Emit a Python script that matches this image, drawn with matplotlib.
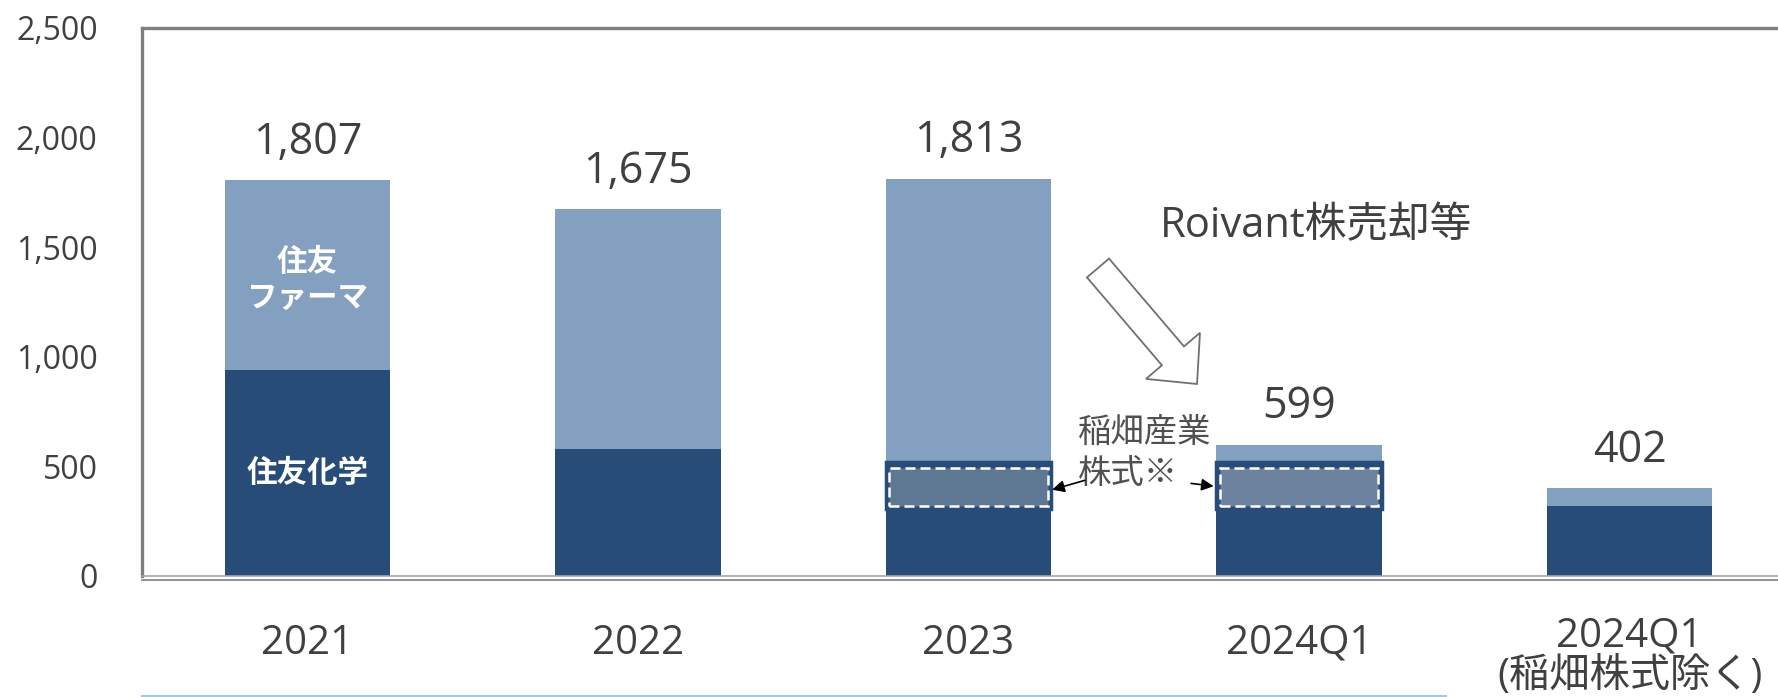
import matplotlib
matplotlib.use('Agg')
import matplotlib.pyplot as plt
import matplotlib.transforms as mtransforms
from matplotlib.patches import FancyArrow
from matplotlib.lines import Line2D
import numpy as np

plt.rcParams['font.family'] = ['Open Sans', 'Noto Sans CJK JP', 'DejaVu Sans']

# data
categories = ['2021', '2022', '2023', '2024Q1', '2024Q1\n(稲畑株式除く)']
totals = [1807, 1675, 1813, 599, 402]
chem = [940, 581, 518, 518, 320]          # 住友化学 (dark part)
inabata_base = [0, 0, 320, 320, 0]         # 稲畑産業株式 box bottom
inabata_top = [0, 0, 493, 493, 0]          # 稲畑産業株式 box top
box_colors = ['#5E7792', '#5E7792', '#5E7792', '#6D829E', '#6D829E']

pharma = [t - c for t, c in zip(totals, chem)]  # 住友ファーマ (light part)

dark = '#264C77'
light = '#83A0C0'
txt = '#404040'

W, H = 1778, 697
fig = plt.figure(figsize=(W / 100, H / 100), dpi=100)
# axes left edge at 142px, 0 at 576px, 2500 at 28px; right edge runs off the figure
ax = fig.add_axes([142 / W, (H - 576) / H, 1653 / W, 548 / H])

x = np.arange(len(categories))
ax.bar(x, chem, width=0.5, color=dark, zorder=2)
ax.bar(x, pharma, bottom=chem, width=0.5, color=light, zorder=2)

# Inabata shares box inside 2023 and 2024Q1 bars
for i in range(len(x)):
    h = inabata_top[i] - inabata_base[i]
    if h <= 0:
        continue
    ax.bar(x[i], chem[i] - inabata_base[i] + 15, bottom=inabata_base[i] - 15, width=0.5,
           color=dark, edgecolor=dark, linewidth=2.5, zorder=3)
    ax.bar(x[i], h, bottom=inabata_base[i], width=0.48, color=box_colors[i],
           edgecolor='white', linestyle=(0, (4, 2)), linewidth=1.8, zorder=4)

# totals on top
for xi, t in zip(x, totals):
    ax.annotate(f'{t:,}', xy=(xi, t), xytext=(0, 27), textcoords='offset points',
                ha='center', va='center', fontsize=31, color=txt)

# labels inside the 2021 bar
ax.text(x[0], 1350, '住友\nファーマ', ha='center', va='center', fontsize=22,
        fontweight='bold', color='white', linespacing=1.15,
        family=['Noto Sans CJK JP'], zorder=5)
ax.text(x[0], 470, '住友化学', ha='center', va='center', fontsize=22,
        fontweight='bold', color='white', family=['Noto Sans CJK JP'], zorder=5)

# annotations
ax.text(3.05, 1597, 'Roivant株売却等', ha='center', va='center', fontsize=30,
        color=txt)
ax.text(2.33, 561, '稲畑産業\n株式※', ha='left', va='center', fontsize=24,
        color='#505050', linespacing=1.25, family=['Noto Sans CJK JP', 'DejaVu Sans'])
ax.annotate('', xy=(2.245, 390), xytext=(2.36, 440),
            arrowprops=dict(arrowstyle='-|>', color='black', lw=1.2, mutation_scale=18),
            zorder=6)
ax.annotate('', xy=(2.75, 408), xytext=(2.665, 424),
            arrowprops=dict(arrowstyle='-|>', color='black', lw=1.2, mutation_scale=18),
            zorder=6)

# big hollow arrow
big_arrow = FancyArrow(1098 / 100, (H - 268) / 100, 99 / 100, -116 / 100,
                       width=0.29, head_width=0.71, head_length=0.37,
                       length_includes_head=True, facecolor='white',
                       edgecolor='#707070', linewidth=1.3,
                       transform=fig.dpi_scale_trans)
fig.add_artist(big_arrow)

ax.set_xlim(-0.5, 4.5)
ax.set_ylim(0, 2500)
ax.set_yticks([0, 500, 1000, 1500, 2000, 2500])
ax.yaxis.set_major_formatter(matplotlib.ticker.StrMethodFormatter('{x:,.0f}'))
ax.set_xticks(x)
ax.set_xticklabels(categories, linespacing=1.0)
ax.tick_params(axis='y', length=0, pad=32, labelsize=23, labelcolor=txt)
ax.tick_params(axis='x', length=0, pad=34, labelsize=29, labelcolor=txt)

# two-line label sits a little higher so it stays inside the figure
lbl = ax.get_xticklabels()[-1]
lbl.set_transform(lbl.get_transform() +
                  mtransforms.ScaledTranslation(0, 7 / 100, fig.dpi_scale_trans))

for s in ['left', 'top']:
    ax.spines[s].set_color('#7F7F7F')
    ax.spines[s].set_linewidth(2.4)
ax.spines['right'].set_visible(False)
ax.spines['bottom'].set_color('#A6A6A6')
ax.spines['bottom'].set_linewidth(1.2)
ax.spines['bottom'].set_zorder(5)
off = mtransforms.offset_copy(ax.transAxes, fig=fig, x=0, y=-4, units='dots')
ax.add_line(Line2D([0, 1], [0, 0], transform=off, color='#808080', lw=1.2,
                   clip_on=False))

fig.add_artist(Line2D([142 / W, 1446 / W], [1.5 / H, 1.5 / H],
                      transform=fig.transFigure, color='#A9C4E4', lw=1.5))

fig.savefig('out.png', dpi=100)
